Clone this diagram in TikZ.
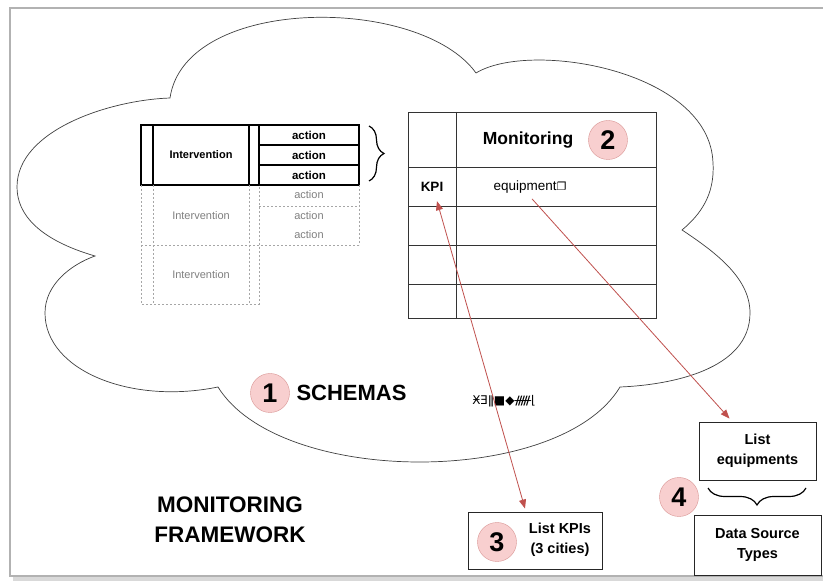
\documentclass[tikz,border=0pt]{standalone}
\usepackage{fontspec}
\setmainfont{Liberation Sans}
\newfontfamily\symfont{DejaVu Sans}
\usetikzlibrary{arrows.meta,decorations.pathreplacing}
\definecolor{arrowred}{HTML}{C0504D}
\definecolor{numfill}{HTML}{F8CFCF}
\definecolor{numline}{HTML}{D99594}
\newcommand\fsz[1]{\fontsize{#1}{#1}\selectfont}
\tikzset{
  numcircle/.style={circle,draw=numline,fill=numfill,minimum size=39pt,inner sep=0pt,font=\fsz{27}\bfseries},
  infobox/.style={draw=black!85,line width=0.9pt,inner sep=0pt},
  boxtext/.style={align=center,font=\fontsize{14.5}{19.5}\selectfont\bfseries,inner sep=1pt},
  dashgray/.style={gray!70,dash pattern=on 2pt off 2pt,line width=0.7pt},
  redarrow/.style={arrowred,line width=0.8pt},
}

\begin{document}
\begin{tikzpicture}[x=1pt,y=-1pt]
    \useasboundingbox (0,0) rectangle (823,585);
    % frame with shadow
    \fill[gray!30] (13,11) rectangle (835,581);
    \draw[gray!60,line width=1.2pt,fill=white] (10,8) rectangle (832,576);
    % cloud
    \draw[black!75,line width=0.7pt] (170,98) .. controls (185,-5) and (420,-5) .. (476,73)
      .. controls (530,40) and (710,70) .. (713,163)
      .. controls (715,195) and (700,215) .. (682,230)
      .. controls (720,255) and (750,280) .. (750,313)
      .. controls (750,370) and (670,385) .. (620,387)
      .. controls (560,487) and (280,487) .. (218,387)
      .. controls (130,405) and (45,370) .. (45,313)
      .. controls (45,285) and (70,265) .. (95,256)
      .. controls (40,240) and (17,215) .. (17,187)
      .. controls (17,130) and (110,100) .. (170,98) -- cycle;
    % interventions
    \draw[line width=1.3pt] (141,125) rectangle (359,185);
    \draw[line width=1.3pt] (153,125) -- (153,185) (249,125) -- (249,185) (259,125) -- (259,185);
    \draw[line width=1.3pt] (259,145) -- (359,145) (259,165) -- (359,165);
    \draw[dashgray] (141,185) -- (141,304) -- (259,304) -- (259,185);
    \draw[dashgray] (153,185) -- (153,304) (249,185) -- (249,304);
    \draw[dashgray] (141,245) -- (359,245) (359,185) -- (359,245) (259,206) -- (359,206);
    \node[font=\fsz{11}\bfseries] (iv1) at (201,155) {Intervention};
    \node[gray,font=\fsz{11}] (iv2) at (201,216) {Intervention};
    \node[gray,font=\fsz{11}] (iv3) at (201,275) {Intervention};
    \foreach \y in {135,155,175}
      \node[font=\fsz{11.5}\bfseries] (act\y) at (309,\y) {action};
    \foreach \y in {195,216,235}
      \node[gray,font=\fsz{11}] (act\y) at (309,\y) {action};
    \draw[line width=1.2pt,decorate,decoration={brace,amplitude=15pt}] (369,126) -- (369,181);
    % monitoring table
    \draw[black!80,line width=0.8pt] (408,112) rectangle (656,318);
    \draw[black!80,line width=0.8pt] (456,112) -- (456,318);
    \foreach \y in {167,206,245,284}
      \draw[black!80,line width=0.8pt] (408,\y) -- (656,\y);
    \node[font=\fsz{17.5}\bfseries] (mon) at (528,140) {Monitoring};
    \node[numcircle] (ctwo) at (608,140) {2};
    \node[font=\fsz{13.5}\bfseries] (kpi) at (432,187) {KPI};
    \node[font=\fsz{13.5}] (equip) at (530,187) {equipment{\symfont\fsz{11}❐}};
    % schemas
    \node[numcircle] (cone) at (270,393) {1};
    \node[anchor=west,font=\fsz{22}\bfseries] (schemas) at (293,393) {SCHEMAS};
    \node[font=\fsz{12}\symfont] (garbled) at (504,401) {ӾƎǁ■◆ᚏ⌊};
    \node[align=center,font=\fsz{22.5}\bfseries] (framework) at (230,520) {MONITORING\\[7pt]FRAMEWORK};
    % output boxes
    \node[infobox,minimum width=134pt,minimum height=57pt] (kpis) at (535,540.5) {};
    \node[numcircle] (cthree) at (497,542) {3};
    \node[boxtext] (kpistxt) at (560,540) {List KPIs\\ (3 cities)};
    \node[infobox,minimum width=117pt,minimum height=58pt] (equips) at (757.5,451) {};
    \node[boxtext] (equipstxt) at (757.5,451) {List\\equipments};
    \draw[line width=1.2pt,decorate,decoration={brace,amplitude=17pt}] (806,488) -- (708,488);
    \node[numcircle] (cfour) at (679,497) {4};
    \node[infobox,minimum width=127pt,minimum height=60pt] (dstypes) at (757.5,545) {};
    \node[boxtext] (dstypestxt) at (757.5,545) {Data Source\\Types};
    % arrows
    \draw[redarrow,{Triangle[width=7pt,length=9pt]}-{Triangle[width=7pt,length=9pt]}]
      ([xshift=5pt,yshift=-6pt]kpi.south) -- ([xshift=-10pt,yshift=3pt]kpis.north);
    \draw[redarrow,-{Triangle[width=7pt,length=9pt]}]
      ([xshift=2pt,yshift=-2pt]equip.south) -- ([xshift=-28pt,yshift=3pt]equips.north);
\end{tikzpicture}
\end{document}
